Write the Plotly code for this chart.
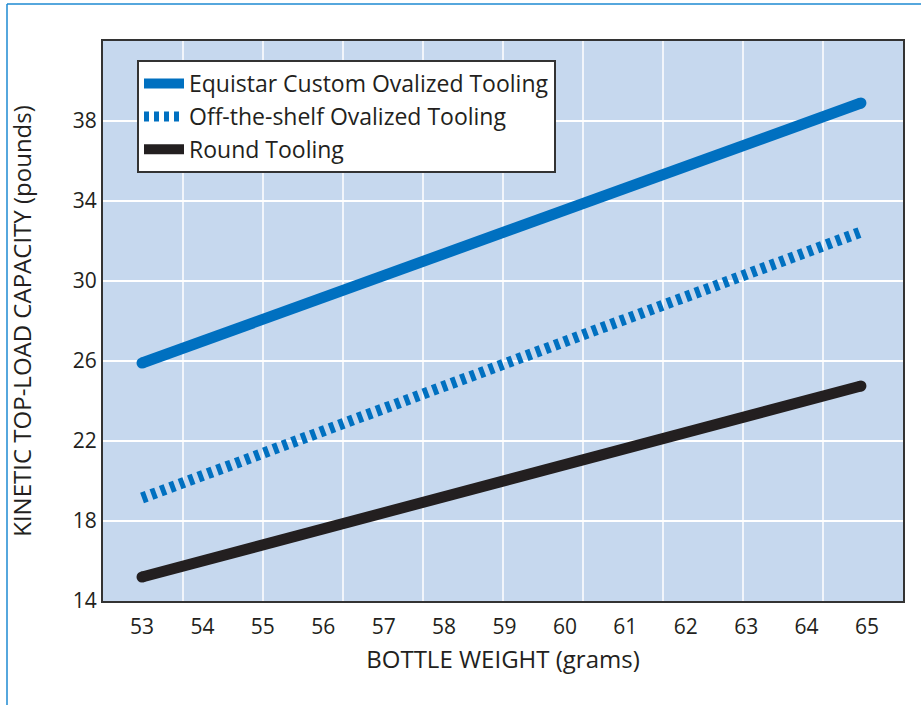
import plotly.graph_objects as go

# Data
weight = [53, 59, 64.9]
equistar = [25.9, 32.4, 38.9]
off_shelf = [19.15, 25.8, 32.45]
round_tool = [15.2, 20.0, 24.75]

x_ticks = list(range(53, 66))
y_ticks = [14, 18, 22, 26, 30, 34, 38]

series_names = ["Equistar Custom Ovalized Tooling",
                "Off-the-shelf Ovalized Tooling",
                "Round Tooling"]

BLUE = "#0070c0"
BLACK = "#231f20"
TEXT = "#231f20"
FONT = "Open Sans"

fig = go.Figure()

# cap markers (round line ends) for solid lines
fig.add_trace(go.Scatter(x=[weight[0], weight[-1]], y=[equistar[0], equistar[-1]],
                         mode="markers", marker=dict(size=11, color=BLUE),
                         showlegend=False, hoverinfo="skip"))
fig.add_trace(go.Scatter(x=[weight[0], weight[-1]], y=[round_tool[0], round_tool[-1]],
                         mode="markers", marker=dict(size=11, color=BLACK),
                         showlegend=False, hoverinfo="skip"))

fig.add_trace(go.Scatter(x=weight, y=equistar, mode="lines", name=series_names[0],
                         line=dict(color=BLUE, width=11), legendgroup="a"))
fig.add_trace(go.Scatter(x=weight, y=off_shelf, mode="lines", name=series_names[1],
                         line=dict(color=BLUE, width=11, dash="5px,5px"), legendgroup="b"))
fig.add_trace(go.Scatter(x=weight, y=round_tool, mode="lines", name=series_names[2],
                         line=dict(color=BLACK, width=11), legendgroup="c"))

# vertical white grid lines (independent of tick labels, 10 equal intervals)
shapes = []
for i in range(1, 10):
    shapes.append(dict(type="line", xref="x domain", yref="y domain",
                       x0=i / 10, x1=i / 10, y0=0, y1=1,
                       line=dict(color="white", width=1.5), layer="below"))
# outer frame (top and left edges)
shapes.append(dict(type="line", xref="paper", yref="paper",
                   x0=-0.12, x1=1.1, y0=1.066, y1=1.066,
                   line=dict(color="#1e8ad2", width=1.5)))
shapes.append(dict(type="line", xref="paper", yref="paper",
                   x0=-0.12, x1=-0.12, y0=1.066, y1=-0.3,
                   line=dict(color="#1e8ad2", width=1.5)))

fig.update_layout(
    width=921, height=705,
    margin=dict(l=103, r=18, t=41, b=104, autoexpand=False),
    paper_bgcolor="white",
    plot_bgcolor="#c6d8ee",
    font=dict(family=FONT, color=TEXT, size=20),
    shapes=shapes,
    showlegend=True,
    legend=dict(x=0.0425, y=0.966, xanchor="left", yanchor="top",
                bgcolor="white", bordercolor="#333333", borderwidth=2,
                font=dict(family=FONT, size=23, color=TEXT),
                traceorder="grouped", tracegroupgap=0,
                itemwidth=40),
    xaxis=dict(range=[52.354, 65.596], tickvals=x_ticks,
               ticktext=[str(v) for v in x_ticks],
               showgrid=False, zeroline=False, automargin=False,
               showline=True, mirror=True, linecolor="#333333", linewidth=2,
               ticks="outside", ticklen=6, tickcolor="rgba(0,0,0,0)",
               tickfont=dict(size=21, family=FONT, color=TEXT),
               title=dict(text="BOTTLE WEIGHT (grams)", standoff=12,
                          font=dict(size=24, family=FONT, color=TEXT))),
    yaxis=dict(range=[14, 42], tickvals=y_ticks,
               ticktext=[str(v) for v in y_ticks],
               showgrid=True, gridcolor="white", gridwidth=1.5, zeroline=False,
               automargin=False,
               showline=True, mirror=True, linecolor="#333333", linewidth=2,
               ticks="",
               tickfont=dict(size=21, family=FONT, color=TEXT),
               title=dict(text="KINETIC TOP-LOAD CAPACITY (pounds)", standoff=34,
                          font=dict(size=24, family=FONT, color=TEXT))),
)

fig.write_html("out.html", config={"displayModeBar": False},
               post_script="document.body.style.margin='0';document.body.style.overflow='hidden';")
